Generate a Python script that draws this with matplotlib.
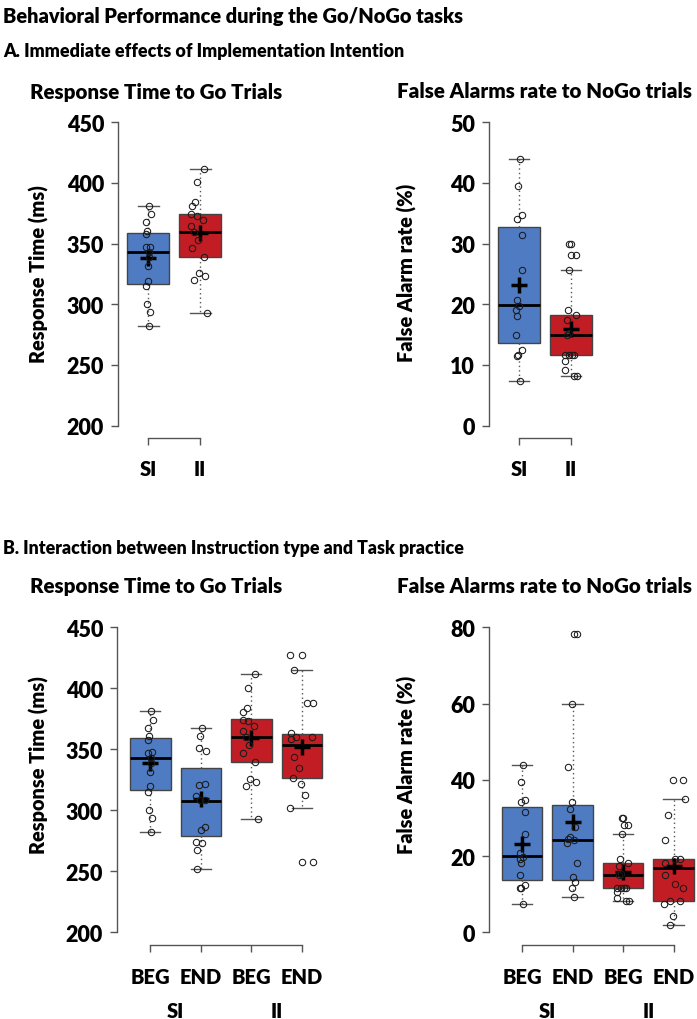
import numpy as np
import matplotlib
matplotlib.use('Agg')
from matplotlib import pyplot as plt
from matplotlib import transforms

plt.rcParams['font.family'] = ['Lato', 'DejaVu Sans']
plt.rcParams['font.weight'] = 'heavy'
WEIGHT = 'heavy'

# groups: BEG SI, END SI, BEG II, END II (top panels show the BEG groups)
group_labels = ['BEG', 'END', 'BEG', 'END']
instr_labels = ['SI', 'II']

# response time box stats (ms)
rt_whislo = [281.9, 252.1, 292.9, 301.9]
rt_q1 = [316.9, 279.0, 339.3, 326.7]
rt_med = [342.9, 307.3, 359.8, 353.5]
rt_q3 = [359.0, 335.0, 374.6, 362.8]
rt_whishi = [381.1, 367.4, 411.7, 414.7]
rt_mean = [338.5, 309.2, 359.0, 351.6]

# false alarm box stats (%)
fa_whislo = [7.4, 9.3, 8.2, 1.8]
fa_q1 = [13.7, 13.7, 11.6, 8.3]
fa_med = [19.9, 24.2, 14.9, 16.8]
fa_q3 = [32.8, 33.3, 18.2, 19.2]
fa_whishi = [44.0, 60.0, 25.7, 35.0]
fa_mean = [23.2, 29.0, 15.9, 17.5]

# individual subjects
rt_beg_si = [381.1, 374.3, 367.7, 360.6, 357.9, 347.2, 347.5, 342.9, 338.8, 331.4, 319.6, 314.7, 300.5, 293.9, 281.9]
rt_end_si = [367.4, 360.6, 350.8, 348.6, 321.0, 321.3, 311.7, 308.2, 308.7, 283.8, 286.6, 274.3, 273.2, 267.7, 252.1]
rt_beg_ii = [411.7, 400.5, 384.1, 380.8, 374.3, 373.2, 369.1, 364.7, 359.8, 353.2, 346.7, 339.3, 325.6, 323.5, 319.9, 292.9]
rt_end_ii = [427.0, 427.0, 414.7, 388.2, 388.2, 363.1, 360.3, 358.2, 360.1, 343.4, 334.4, 326.7, 321.3, 312.3, 301.9, 257.3, 257.3]

fa_beg_si = [44.0, 39.5, 34.8, 34.1, 31.5, 25.7, 20.7, 19.8, 19.1, 18.1, 14.9, 12.4, 11.6, 11.5, 7.4]
fa_end_si = [78.3, 78.3, 60.0, 43.4, 34.2, 32.4, 27.5, 25.0, 24.5, 24.1, 23.3, 18.3, 14.4, 13.3, 11.7, 9.3]
fa_beg_ii = [30.0, 30.0, 28.1, 28.1, 25.7, 19.1, 18.2, 17.4, 15.3, 14.9, 11.6, 11.6, 11.6, 11.6, 10.6, 9.1, 8.2, 8.2]
fa_end_ii = [40.0, 40.0, 35.0, 30.8, 24.2, 19.2, 19.2, 18.3, 15.0, 12.6, 11.7, 8.3, 8.3, 7.4, 4.3, 1.8]

# horizontal jitter of the points
rt_beg_si_jit = [0.02, 0.05, -0.05, -0.03, -0.04, -0.05, 0.03, 0.01, 0.02, -0.01, -0.01, -0.04, -0.03, 0.04, 0.02]
rt_end_si_jit = [0.03, -0.01, -0.04, 0.11, -0.03, 0.08, -0.10, -0.01, 0.08, 0.01, 0.09, -0.09, 0.03, -0.07, -0.07]
rt_beg_ii_jit = [0.07, -0.06, -0.09, -0.16, -0.17, -0.07, 0.06, -0.17, -0.11, -0.04, -0.16, 0.07, -0.02, 0.10, -0.11, 0.13]
rt_end_ii_jit = [-0.23, 0.0, -0.15, 0.11, 0.23, -0.22, -0.12, -0.21, 0.21, -0.15, -0.05, -0.17, -0.02, 0.06, -0.23, 0.0, 0.22]
fa_beg_si_jit = [0.02, -0.02, 0.05, -0.03, 0.05, 0.06, -0.04, 0.01, -0.05, -0.03, -0.05, 0.06, -0.02, -0.04, 0.02]
fa_end_si_jit = [0.03, 0.08, -0.01, -0.09, -0.02, -0.05, 0.04, -0.05, -0.09, 0.03, -0.11, 0.08, 0.01, 0.05, -0.02, 0.03]
fa_beg_ii_jit = [-0.03, 0.0, 0.01, 0.10, -0.03, -0.06, 0.10, -0.08, -0.04, -0.08, -0.11, -0.04, 0.02, 0.06, -0.12, -0.12, 0.06, 0.11]
fa_end_ii_jit = [-0.01, 0.19, 0.22, -0.11, -0.17, 0.03, 0.13, -0.17, -0.17, 0.03, 0.18, -0.08, 0.13, -0.18, -0.01, -0.08]

BLUE = '#4f7bc2'
RED = '#c21d24'
W, H = 697, 1020


def px_axes(fig, left, top, width, height):
    return fig.add_axes([left / W, 1 - (top + height) / H, width / W, height / H])


def draw_panel(ax, idx, whislo, q1, med, q3, whishi, mean, points, jits, colors,
               ylim, yticks, ylabel, xlabels, lab_pad):
    positions = list(range(1, len(idx) + 1))
    stats = [dict(whislo=whislo[i], q1=q1[i], med=med[i], q3=q3[i], whishi=whishi[i],
                  mean=mean[i], fliers=[]) for i in idx]
    bp = ax.bxp(stats, positions=positions, widths=0.8, patch_artist=True,
                showmeans=True, showfliers=False,
                boxprops=dict(edgecolor='#444444', linewidth=1.0),
                medianprops=dict(color='black', linewidth=2.0),
                whiskerprops=dict(color='#555555', linewidth=1.0, linestyle=(0, (1, 2.2))),
                capprops=dict(color='#555555', linewidth=1.0),
                capwidths=0.4,
                meanprops=dict(marker='+', markersize=11.5, markeredgewidth=2.5,
                               markeredgecolor='black', color='black'))
    for patch, c in zip(bp['boxes'], colors):
        patch.set_facecolor(c)
    for pos, vals, jit in zip(positions, points, jits):
        ax.plot(np.array(jit) + pos, vals, linestyle='none', marker='o', markersize=4.6,
                markerfacecolor='none', markeredgecolor='#1a1a1a', markeredgewidth=0.75,
                zorder=5)
    ax.set_xlim(0.5 - 0.04 * len(idx), len(idx) + 0.5 + 0.04 * len(idx))
    rng = ylim[1] - ylim[0]
    ax.set_ylim(ylim[0] - 0.04 * rng, ylim[1] + 0.04 * rng)
    for s in ['top', 'right']:
        ax.spines[s].set_visible(False)
    ax.spines['left'].set_bounds(ylim[0], ylim[1])
    ax.spines['bottom'].set_bounds(1, len(idx))
    for s in ['left', 'bottom']:
        ax.spines[s].set_color('#555555')
        ax.spines[s].set_linewidth(1.0)
    ax.set_yticks(yticks)
    ax.set_yticklabels([str(t) for t in yticks], fontsize=15.5, fontweight=WEIGHT)
    ax.set_xticks(positions)
    ax.set_xticklabels(xlabels, fontsize=14.5, fontweight=WEIGHT)
    ax.tick_params(axis='y', length=5, width=1.0, color='#555555', pad=5)
    ax.tick_params(axis='x', length=5, width=1.0, color='#555555', pad=lab_pad)
    ax.set_ylabel(ylabel, fontsize=14.3, fontweight=WEIGHT)
    ax.patch.set_visible(False)


fig = plt.figure(figsize=(W / 100, H / 100), dpi=100)

fig.text(3 / W, 1 - 17 / H, 'Behavioral Performance during the Go/NoGo tasks',
         fontsize=14.4, fontweight=WEIGHT, va='center', ha='left')
fig.text(3 / W, 1 - 52 / H, 'A. Immediate effects of Implementation Intention',
         fontsize=12.9, fontweight=WEIGHT, va='center', ha='left')
fig.text(3 / W, 1 - 549 / H, 'B. Interaction between Instruction type and Task practice',
         fontsize=12.8, fontweight=WEIGHT, va='center', ha='left')
for ty in [92, 587]:
    fig.text(30 / W, 1 - ty / H, 'Response Time to Go Trials', fontsize=14.8,
             fontweight=WEIGHT, va='center', ha='left')
    fig.text(397 / W, 1 - ty / H, 'False Alarms rate to NoGo trials', fontsize=14.8,
             fontweight=WEIGHT, va='center', ha='left')

rt_points = [rt_beg_si, rt_end_si, rt_beg_ii, rt_end_ii]
rt_jits = [rt_beg_si_jit, rt_end_si_jit, rt_beg_ii_jit, rt_end_ii_jit]
fa_points = [fa_beg_si, fa_end_si, fa_beg_ii, fa_end_ii]
fa_jits = [fa_beg_si_jit, fa_end_si_jit, fa_beg_ii_jit, fa_end_ii_jit]

# A: immediate effects (BEG blocks only)
ax1 = px_axes(fig, 118, 111.2, 112.3, 327.6)
draw_panel(ax1, [0, 2], rt_whislo, rt_q1, rt_med, rt_q3, rt_whishi, rt_mean,
           [rt_points[0], rt_points[2]], [rt_jits[0], rt_jits[2]], [BLUE, RED],
           (200, 450), [200, 250, 300, 350, 400, 450], 'Response Time (ms)', instr_labels, 10)
ax2 = px_axes(fig, 488.8, 111.2, 112.3, 327.6)
draw_panel(ax2, [0, 2], fa_whislo, fa_q1, fa_med, fa_q3, fa_whishi, fa_mean,
           [fa_points[0], fa_points[2]], [fa_jits[0], fa_jits[2]], [BLUE, RED],
           (0, 50), [0, 10, 20, 30, 40, 50], 'False Alarm rate (%)', instr_labels, 10)

# B: instruction x practice
ax3 = px_axes(fig, 117, 616.1, 218.2, 329.4)
draw_panel(ax3, [0, 1, 2, 3], rt_whislo, rt_q1, rt_med, rt_q3, rt_whishi, rt_mean,
           rt_points, rt_jits, [BLUE, BLUE, RED, RED],
           (200, 450), [200, 250, 300, 350, 400, 450], 'Response Time (ms)', group_labels, 11)
ax4 = px_axes(fig, 488.7, 616.1, 218.2, 329.4)
draw_panel(ax4, [0, 1, 2, 3], fa_whislo, fa_q1, fa_med, fa_q3, fa_whishi, fa_mean,
           fa_points, fa_jits, [BLUE, BLUE, RED, RED],
           (0, 80), [0, 20, 40, 60, 80], 'False Alarm rate (%)', group_labels, 11)

for ax in [ax3, ax4]:
    tr = transforms.blended_transform_factory(ax.transData, fig.transFigure)
    for x, lab in zip([1.5, 3.5], instr_labels):
        ax.text(x, 1 - 1012 / H, lab, transform=tr, fontsize=14.5, fontweight=WEIGHT,
                ha='center', va='center')

ax1.yaxis.set_label_coords(49 / W, 1 - 274 / H, transform=fig.transFigure)
ax2.yaxis.set_label_coords(417 / W, 1 - 273 / H, transform=fig.transFigure)
ax3.yaxis.set_label_coords(49 / W, 1 - 765 / H, transform=fig.transFigure)
ax4.yaxis.set_label_coords(417 / W, 1 - 765 / H, transform=fig.transFigure)

fig.savefig('out.png', dpi=100, facecolor='white')
